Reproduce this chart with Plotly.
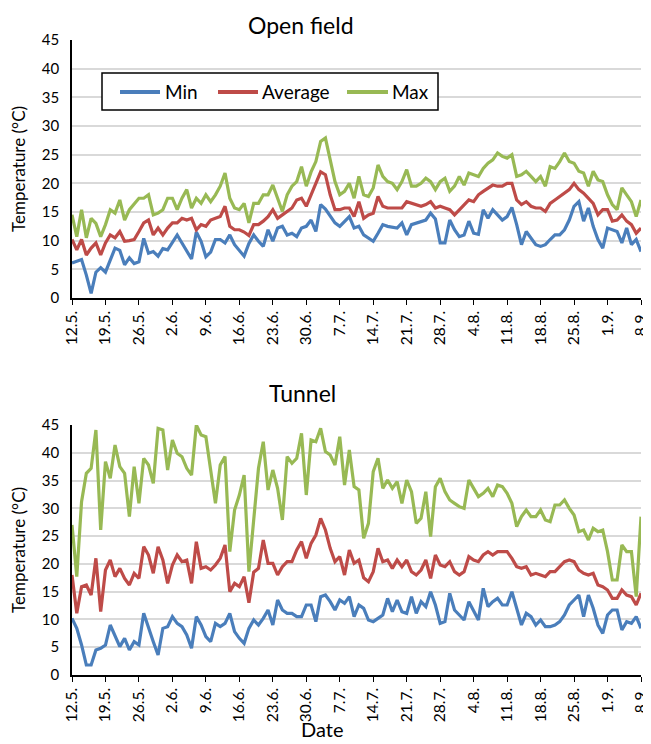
import plotly.graph_objects as go

# ---------------- data ----------------
tick_labels = ["12.5.", "19.5.", "26.5.", "2.6.", "9.6.", "16.6.", "23.6.", "30.6.", "7.7.",
               "14.7.", "21.7.", "28.7.", "4.8.", "11.8.", "18.8.", "25.8.", "1.9.", "8.9."]

of_min = [6.1, 6.4, 6.7, 4.0, 0.8, 4.5, 5.3, 4.5, 6.8, 8.7,
          8.3, 5.8, 7.0, 6.0, 6.3, 10.4, 7.8, 8.1, 7.3, 8.6,
          8.4, 9.8, 11.0, 9.6, 8.1, 6.8, 11.5, 9.9, 7.2, 8.0,
          10.2, 10.2, 9.6, 11.0, 9.3, 8.3, 7.3, 9.5, 11.0, 9.9,
          9.0, 11.9, 9.9, 12.2, 12.5, 11.0, 11.3, 10.7, 12.2, 12.5,
          13.6, 11.6, 16.3, 15.5, 14.2, 13.1, 12.5, 13.4, 14.2, 12.2,
          12.5, 11.0, 10.5, 9.9, 11.3, 12.8, 12.5, 12.3, 12.2, 13.1,
          11.0, 12.8, 13.1, 13.4, 13.6, 14.8, 13.8, 9.6, 9.6, 13.6,
          11.9, 10.7, 11.0, 13.4, 11.3, 11.1, 15.4, 13.9, 15.4, 14.5,
          13.6, 14.2, 15.8, 12.8, 9.3, 11.6, 10.5, 9.3, 9.0, 9.3,
          10.2, 11.0, 11.0, 11.9, 13.6, 16.0, 16.8, 13.4, 15.7, 12.5,
          10.2, 8.7, 12.2, 11.9, 11.6, 9.6, 12.2, 9.3, 10.2, 8.1]

of_avg = [10.2, 8.4, 10.2, 7.5, 8.7, 9.6, 7.5, 9.6, 11.0, 10.5,
          11.6, 9.9, 10.0, 10.2, 11.6, 13.1, 13.6, 11.0, 12.2, 11.0,
          12.2, 13.1, 13.1, 13.9, 13.6, 13.9, 11.9, 12.8, 12.5, 13.6,
          13.9, 14.2, 16.0, 12.5, 11.9, 11.9, 11.5, 10.9, 12.8, 12.8,
          13.4, 14.2, 15.4, 13.9, 14.5, 15.1, 15.7, 17.1, 17.4, 16.0,
          18.0, 19.8, 22.0, 21.5, 18.0, 15.4, 15.4, 15.7, 15.7, 14.2,
          16.8, 13.9, 14.5, 14.8, 17.7, 16.0, 15.7, 15.7, 15.7, 15.7,
          16.8, 16.5, 16.2, 16.0, 16.3, 16.8, 15.7, 16.0, 15.7, 15.4,
          14.5, 15.4, 16.3, 17.1, 16.8, 18.0, 18.6, 19.2, 19.7, 19.5,
          19.5, 20.0, 20.0, 17.1, 16.3, 16.8, 16.0, 15.7, 15.7, 15.1,
          16.5, 17.1, 17.7, 18.3, 18.9, 20.0, 18.9, 18.3, 17.4, 16.5,
          14.5, 15.4, 15.4, 13.4, 13.6, 14.5, 13.4, 12.8, 11.3, 12.2]

of_max = [14.5, 10.7, 15.4, 10.5, 13.9, 13.0, 10.7, 12.8, 15.4, 14.8,
          17.1, 13.6, 15.4, 16.5, 17.4, 17.4, 18.0, 14.5, 14.8, 15.4,
          17.4, 17.4, 15.4, 17.4, 18.9, 15.7, 17.4, 16.5, 18.0, 16.8,
          18.0, 19.5, 21.8, 17.4, 15.7, 15.4, 16.5, 13.1, 16.5, 16.5,
          18.0, 18.0, 19.7, 17.4, 15.1, 18.0, 19.5, 20.3, 22.9, 19.5,
          22.0, 23.8, 27.3, 27.9, 24.4, 20.3, 18.0, 18.6, 20.0, 17.4,
          21.2, 18.0, 17.7, 19.2, 23.2, 21.2, 20.3, 20.0, 18.9, 20.3,
          22.4, 19.5, 19.5, 20.0, 20.9, 20.3, 18.9, 20.3, 20.9, 18.6,
          19.5, 21.2, 19.7, 21.8, 21.5, 21.2, 22.6, 23.5, 24.1, 25.3,
          24.7, 24.4, 25.0, 21.2, 21.5, 22.1, 21.2, 20.3, 21.2, 19.5,
          22.9, 22.6, 23.8, 25.3, 23.8, 23.5, 22.1, 21.8, 19.5, 22.1,
          20.6, 20.3, 18.0, 16.3, 15.4, 19.2, 18.0, 16.8, 14.2, 17.1]

tu_min = [10.2, 8.4, 5.4, 1.8, 1.8, 4.5, 4.8, 5.4, 9.0, 7.2,
          5.1, 6.6, 4.5, 6.0, 5.4, 11.1, 8.4, 6.0, 3.6, 8.4,
          8.7, 10.5, 9.3, 8.7, 7.2, 4.8, 10.5, 9.0, 6.9, 6.0,
          9.3, 8.7, 9.3, 11.1, 7.8, 6.6, 5.7, 8.4, 9.9, 9.0,
          10.2, 11.7, 9.0, 13.5, 11.7, 11.1, 11.1, 10.5, 10.5, 12.6,
          12.6, 9.6, 14.1, 14.4, 13.2, 11.7, 13.5, 12.9, 14.1, 10.5,
          12.6, 12.0, 9.9, 9.6, 10.2, 10.8, 13.8, 11.4, 13.5, 11.4,
          11.1, 14.1, 11.1, 13.2, 12.3, 15.0, 12.6, 9.3, 9.6, 14.7,
          11.7, 10.8, 9.9, 13.2, 11.4, 9.9, 15.6, 12.3, 13.2, 13.8,
          12.6, 12.6, 15.0, 12.0, 9.0, 11.1, 10.5, 9.0, 9.9, 8.7,
          8.7, 9.0, 9.6, 10.8, 12.6, 13.5, 14.4, 10.5, 14.4, 12.0,
          9.0, 7.5, 10.8, 11.7, 11.7, 8.1, 9.6, 9.3, 10.5, 8.4]

tu_avg = [18.0, 11.1, 15.9, 16.2, 14.4, 21.0, 11.4, 18.9, 20.7, 17.7,
          19.2, 17.4, 16.2, 18.3, 17.4, 23.1, 21.6, 18.3, 23.1, 20.7,
          16.5, 19.8, 21.6, 20.4, 20.7, 16.5, 24.0, 19.2, 19.5, 18.9,
          19.8, 21.0, 23.4, 15.0, 16.5, 15.9, 17.7, 13.0, 18.5, 19.2,
          24.3, 20.1, 20.1, 18.0, 19.5, 20.4, 20.4, 22.5, 24.0, 21.0,
          23.7, 25.2, 28.2, 26.1, 22.8, 20.4, 21.3, 18.0, 22.5, 20.1,
          20.7, 17.5, 16.8, 18.6, 22.8, 20.4, 20.7, 19.2, 20.7, 19.5,
          20.7, 18.6, 18.0, 18.9, 20.7, 17.4, 21.6, 19.8, 19.5, 20.4,
          18.6, 18.0, 18.6, 21.3, 20.7, 20.4, 21.6, 22.2, 21.6, 22.2,
          22.2, 22.2, 21.0, 19.5, 19.2, 19.5, 18.0, 18.3, 18.0, 17.7,
          18.6, 18.6, 19.5, 20.4, 20.7, 20.4, 18.9, 18.3, 18.0, 18.3,
          16.2, 15.9, 15.3, 13.8, 13.8, 15.3, 14.4, 14.1, 12.6, 14.7]

tu_max = [27.0, 17.7, 31.2, 36.3, 37.2, 44.1, 26.1, 38.4, 35.4, 41.4,
          37.5, 36.3, 28.5, 37.5, 30.9, 39.0, 37.8, 34.5, 44.4, 44.1,
          36.9, 42.3, 39.9, 39.3, 37.2, 36.0, 45.0, 43.2, 42.9, 36.6,
          30.9, 37.8, 39.3, 22.2, 29.7, 32.4, 36.0, 18.6, 28.0, 37.2,
          42.0, 33.3, 36.9, 33.6, 27.9, 39.3, 38.1, 39.0, 43.5, 32.4,
          42.3, 42.0, 44.4, 40.2, 39.6, 37.8, 42.9, 34.2, 40.5, 33.9,
          33.3, 24.6, 27.3, 36.6, 39.0, 33.6, 35.1, 33.6, 34.8, 30.9,
          35.1, 33.0, 27.3, 28.2, 33.0, 24.9, 33.9, 35.4, 33.0, 31.5,
          30.9, 30.3, 30.0, 35.1, 33.6, 32.1, 32.7, 33.6, 32.1, 34.2,
          33.9, 32.7, 30.9, 26.7, 28.5, 29.7, 28.5, 28.5, 29.7, 27.9,
          27.6, 30.6, 30.6, 31.5, 30.0, 28.8, 25.8, 26.1, 24.3, 26.4,
          25.8, 26.1, 22.2, 17.1, 17.1, 23.4, 22.2, 22.2, 14.1, 28.5]

series_names = ["Min", "Average", "Max"]
series_colors = ["#4a7ebb", "#be4b48", "#98b954"]

days = list(range(len(of_min)))
tick_days = list(range(0, len(of_min), 7))

# ---------------- figure ----------------
# The page body adds an 8 px margin, so the figure is 8 px smaller and all
# reference pixel positions are offset by that amount.
OFF = 8
W, H = 651 - OFF, 744 - OFF
X_LEFT, X_RIGHT = 72, 641
ml = X_LEFT - OFF
mr = W - (X_RIGHT - OFF)
mt = 40 - OFF
mb = H - (675 - OFF)
pw = W - ml - mr
ph = H - mt - mb
top_dom = [1 - (298 - 40) / ph, 1]
bot_dom = [0, (675 - 425) / ph]


def px(xr):
    return (xr - X_LEFT) / pw


def py(yr):
    return 1 - (yr - 40) / ph


FONT = "Lato, 'Open Sans', sans-serif"

fig = go.Figure()
for name, col, ys in zip(series_names, series_colors, [of_min, of_avg, of_max]):
    fig.add_trace(go.Scatter(x=days, y=ys, mode="lines", name=name,
                             line=dict(color=col, width=3.2), showlegend=False,
                             xaxis="x", yaxis="y"))
for name, col, ys in zip(series_names, series_colors, [tu_min, tu_avg, tu_max]):
    fig.add_trace(go.Scatter(x=days, y=ys, mode="lines", name=name,
                             line=dict(color=col, width=3.2), showlegend=False,
                             xaxis="x2", yaxis="y2"))

xcommon = dict(range=[0, days[-1] + 0.001], tickmode="array", tickvals=tick_days, ticktext=tick_labels,
               tickangle=-90, ticks="outside", ticklen=5, tickcolor="black", tickwidth=1.2,
               showline=True, linecolor="black", linewidth=1.5, showgrid=False, zeroline=False,
               ticklabeloverflow="allow",
               tickfont=dict(family=FONT, size=15.5, color="black"), automargin=False)
ycommon = dict(range=[0, 45], dtick=5, tick0=0, showgrid=True, gridcolor="#d9d9d9", gridwidth=1.5,
               showline=True, linecolor="black", linewidth=1.5, zeroline=False, ticks="",
               ticklabelstandoff=8,
               tickfont=dict(family=FONT, size=15, color="black"), automargin=False,
               title=dict(text="Temperature (°C)", font=dict(family=FONT, size=17, color="black"),
                          standoff=12))

# legend drawn as a boxed key in the top panel
leg_y = py(92)
leg_items = [("Min", series_colors[0], 120, 160, 163),
             ("Average", series_colors[1], 218, 258, 260),
             ("Max", series_colors[2], 347, 388, 390)]
shapes = [dict(type="rect", xref="paper", yref="paper", x0=px(102), x1=px(438), y0=py(110), y1=py(73),
               line=dict(color="black", width=1.5), fillcolor="white", layer="above")]
annotations = []
for name, col, x0, x1, xt in leg_items:
    shapes.append(dict(type="line", xref="paper", yref="paper", x0=px(x0), x1=px(x1), y0=leg_y, y1=leg_y,
                       line=dict(color=col, width=4), layer="above"))
    annotations.append(dict(text=name, x=px(xt), y=leg_y, xref="paper", yref="paper", showarrow=False,
                            xanchor="left", yanchor="middle",
                            font=dict(family=FONT, size=19, color="black")))

annotations += [
    dict(text="Open field", x=px(301), y=py(25), xref="paper", yref="paper",
         showarrow=False, xanchor="center", yanchor="middle",
         font=dict(family=FONT, size=23, color="black")),
    dict(text="Tunnel", x=px(302), y=py(393), xref="paper", yref="paper",
         showarrow=False, xanchor="center", yanchor="middle",
         font=dict(family=FONT, size=23, color="black")),
    dict(text="Date", x=px(322), y=py(729), xref="paper", yref="paper",
         showarrow=False, xanchor="center", yanchor="middle",
         font=dict(family=FONT, size=20, color="black")),
]

fig.update_layout(
    width=W, height=H,
    margin=dict(l=ml, r=mr, t=mt, b=mb),
    paper_bgcolor="white", plot_bgcolor="white",
    font=dict(family=FONT, color="black"),
    xaxis=dict(domain=[0, 1], anchor="y", **xcommon),
    yaxis=dict(domain=top_dom, anchor="x", **ycommon),
    xaxis2=dict(domain=[0, 1], anchor="y2", **xcommon),
    yaxis2=dict(domain=bot_dom, anchor="x2", **ycommon),
    showlegend=False,
    shapes=shapes,
    annotations=annotations,
)

fig.write_html("out.html")
